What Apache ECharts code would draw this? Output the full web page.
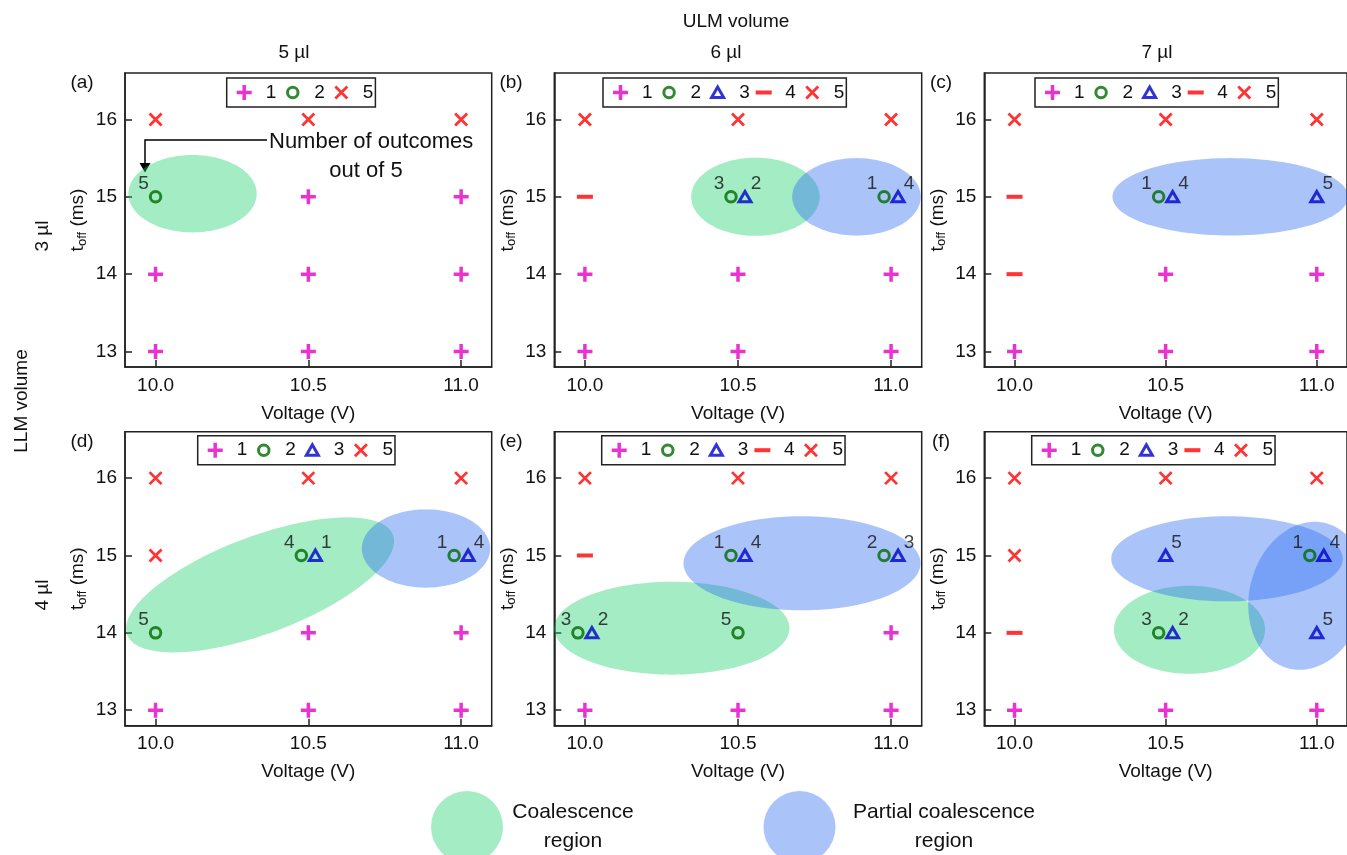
<!DOCTYPE html>
<html><head><meta charset="utf-8">
<script src="https://cdn.jsdelivr.net/npm/echarts@6/dist/echarts.min.js"></script>
<style>html,body{margin:0;padding:0;background:#fff}#c{width:1347px;height:855px}</style>
</head><body><div id="c"></div>
<script>
// ---------------- data ----------------
const voltages = [10.0, 10.5, 11.0];          // columns of every outcome grid
const tOffRows = [16, 15, 14, 13];            // rows of every outcome grid (top to bottom)
const xTicks = [10.0, 10.5, 11.0];
const yTicks = [13, 14, 15, 16];
const columnTitles = ['5 µl', '6 µl', '7 µl'];   // ULM volume
const rowTitles = ['3 µl', '4 µl'];              // LLM volume
const panelLetters = ['(a)', '(b)', '(c)', '(d)', '(e)', '(f)'];
const outcomeNames = ['1', '2', '3', '4', '5'];
// '+' outcome 1, 'oN' outcome 2 (N of 5), '^N' outcome 3 (N of 5), '-' outcome 4, 'x' outcome 5
const outcomesA = [['x','x','x'], ['o5','+','+'], ['+','+','+'], ['+','+','+']];
const outcomesB = [['x','x','x'], ['-','o3^2','o1^4'], ['+','+','+'], ['+','+','+']];
const outcomesC = [['x','x','x'], ['-','o1^4','^5'], ['-','+','+'], ['+','+','+']];
const outcomesD = [['x','x','x'], ['x','o4^1','o1^4'], ['o5','+','+'], ['+','+','+']];
const outcomesE = [['x','x','x'], ['-','o1^4','o2^3'], ['o3^2','o5','+'], ['+','+','+']];
const outcomesF = [['x','x','x'], ['x','^5','o1^4'], ['-','o3^2','^5'], ['+','+','+']];
// regions: [panel, centreV, centreT, axis1 dV, axis1 dT, axis2 dV, axis2 dT] (data units)
const coalescenceRegions = [
  [0, 10.121, 15.04, 0.21, 0, 0, 0.50],
  [1, 10.557, 15.00, 0.21, 0, 0, 0.505],
  [3, 10.342, 14.62, 0.435, 0.645, 0.056, -0.588],
  [4, 10.284, 14.06, 0.384, 0, 0, 0.60],
  [5, 10.579, 14.04, 0.25, 0, 0, 0.57]
];
const partialRegions = [
  [1, 10.887, 15.00, 0.21, 0, 0, 0.50],
  [2, 10.714, 15.00, 0.39, 0, 0, 0.50],
  [3, 10.885, 15.09, 0.21, 0, 0, 0.506],
  [4, 10.709, 14.90, 0.387, 0, 0, 0.608],
  [5, 10.703, 14.957, 0.383, 0, 0, 0.55],
  [5, 10.968, 14.479, 0.0636, 0.937, 0.184, -0.194]
];
const panelOutcomes = [outcomesA, outcomesB, outcomesC, outcomesD, outcomesE, outcomesF];

// ---------------- styles / layout ----------------
const FONT = '"Liberation Sans", Arial, sans-serif';
const TXT = '#111';
const MAG = '#e400c6', GRN = '#006a00', BLU = '#0000cc', RED = '#ff0000';
const GREEN_FILL = 'rgba(25,207,107,0.4)', BLUE_FILL = 'rgba(42,107,242,0.4)';
const PLUS = 'path://M0,0M16,16M8,0.5V15.5M0.5,8H15.5';
const CIRC = 'path://M0,0M16,16M13.25,8A5.25,5.25,0,1,1,2.75,8A5.25,5.25,0,1,1,13.25,8Z';
const TRI = 'path://M0,0M16,16M8,2.6L14,13L2,13Z';
const DASH = 'path://M0,0M16,16M0,6H16V10H0Z';
const CROSS = 'path://M0,0M16,16M2,2L14,14M14,2L2,14';
const markerStyle = {
  '1': { symbol: PLUS, itemStyle: { color: 'none', borderColor: MAG, borderWidth: 3.5 } },
  '2': { symbol: CIRC, itemStyle: { color: 'none', borderColor: GRN, borderWidth: 3 } },
  '3': { symbol: TRI, itemStyle: { color: 'none', borderColor: BLU, borderWidth: 3 } },
  '4': { symbol: DASH, itemStyle: { color: RED, borderWidth: 0 } },
  '5': { symbol: CROSS, itemStyle: { color: 'none', borderColor: RED, borderWidth: 2.8 } }
};
const labelOffset = { '2': [-12, -13], '3': [11, -13] };
const PAIR_SHIFT = 7;

const gridLefts = [125, 554.3, 984.3];
const gridWidths = [366.7, 367.4, 367];
const gridTops = [73, 431.7];
const GRID_H = 294;
const legendLefts = [226.7, 603, 1035, 197.7, 601.7, 1031.7];
const legendTops = [78, 435.7];
const AXIS_LINE = { show: true, onZero: false, lineStyle: { color: '#222', width: 1.5 } };
const TICK_STYLE = { color: '#222', width: 1.5 };

function parseCell(s) {
  if (s === '+') return [{ k: '1' }];
  if (s === '-') return [{ k: '4' }];
  if (s === 'x') return [{ k: '5' }];
  const m = s.match(/^(?:o(\d))?(?:\^(\d))?$/);
  const pair = !!(m[1] && m[2]);
  const res = [];
  if (m[1]) res.push({ k: '2', n: m[1], off: pair ? -1 : 0 });
  if (m[2]) res.push({ k: '3', n: m[2], off: pair ? 1 : 0 });
  return res;
}

const grids = [], xAxes = [], yAxes = [], series = [], legends = [];
for (let p = 0; p < 6; p++) {
  const col = p % 3, row = Math.floor(p / 3);
  grids.push({ left: gridLefts[col], top: gridTops[row], width: gridWidths[col], height: GRID_H,
    show: true, borderColor: '#222', borderWidth: 1.5, backgroundColor: 'transparent' });
  xAxes.push({
    type: 'value', gridIndex: p, min: 9.9, max: 11.1, position: 'bottom',
    name: 'Voltage (V)', nameLocation: 'middle', nameGap: 37,
    nameTextStyle: { fontSize: 19, color: TXT, fontFamily: FONT },
    axisLine: AXIS_LINE,
    axisTick: { show: true, inside: false, length: -7, customValues: xTicks, lineStyle: TICK_STYLE },
    axisLabel: { customValues: xTicks, fontSize: 19, color: TXT, fontFamily: FONT, margin: 9, formatter: v => Number(v).toFixed(1) },
    splitLine: { show: false }
  });
  yAxes.push({
    type: 'value', gridIndex: p, min: 12.8, max: 16.6, position: 'left',
    name: '{t|t}{s|off}{t| (ms)}', nameLocation: 'middle', nameGap: 36,
    nameTextStyle: { fontSize: 19, color: TXT, fontFamily: FONT,
      rich: { t: { fontSize: 19, lineHeight: 22, color: TXT, fontFamily: FONT },
              s: { fontSize: 13, lineHeight: 12, verticalAlign: 'bottom', color: TXT, fontFamily: FONT } } },
    axisLine: AXIS_LINE,
    axisTick: { show: true, inside: false, length: -7, customValues: yTicks, lineStyle: TICK_STYLE },
    axisLabel: { customValues: yTicks, fontSize: 19, color: TXT, fontFamily: FONT, margin: 8 },
    splitLine: { show: false }
  });

  // regions
  [[coalescenceRegions, 'Coalescence region', GREEN_FILL], [partialRegions, 'Partial coalescence region', BLUE_FILL]].forEach(([list, name, fill]) => {
    const data = list.filter(r => r[0] === p).map(r => r.slice(1));
    if (!data.length) return;
    series.push({
      type: 'custom', name, xAxisIndex: p, yAxisIndex: p, silent: true, clip: false, z: 1,
      itemStyle: { color: fill },
      encode: { x: 0, y: 1 },
      data,
      renderItem: (params, api) => {
        const cx = api.value(0), cy = api.value(1), ux = api.value(2), uy = api.value(3), vx = api.value(4), vy = api.value(5);
        const pts = [];
        for (let k = 0; k < 120; k++) {
          const a = 2 * Math.PI * k / 120;
          pts.push(api.coord([cx + ux * Math.cos(a) + vx * Math.sin(a), cy + uy * Math.cos(a) + vy * Math.sin(a)]));
        }
        return { type: 'polygon', shape: { points: pts }, style: { fill } };
      }
    });
  });

  // markers
  const byKind = {};
  panelOutcomes[p].forEach((rowCells, ri) => rowCells.forEach((cell, ci) => {
    parseCell(cell).forEach(it => {
      (byKind[it.k] = byKind[it.k] || []).push({
        value: [voltages[ci], tOffRows[ri]],
        symbolOffset: [(it.off || 0) * PAIR_SHIFT, 0],
        label: it.n ? { show: true, formatter: it.n } : { show: false }
      });
    });
  }));
  const present = outcomeNames.filter(k => byKind[k]);
  present.forEach(k => {
    series.push({
      type: 'scatter', name: k, xAxisIndex: p, yAxisIndex: p, z: 3, silent: true,
      symbol: markerStyle[k].symbol, symbolSize: 16,
      itemStyle: markerStyle[k].itemStyle,
      label: { show: false, position: 'inside', offset: labelOffset[k] || [0, 0], fontSize: 19, color: TXT, fontFamily: FONT },
      data: byKind[k]
    });
  });
  legends.push({
    left: legendLefts[p], top: legendTops[row], orient: 'horizontal',
    borderColor: '#222', borderWidth: 1.5, padding: [4, 2, 4, 7],
    itemWidth: 33, itemHeight: 16, itemGap: 6, selectedMode: false,
    textStyle: { fontSize: 19, color: TXT, fontFamily: FONT },
    data: present.map(k => ({ name: k, icon: markerStyle[k].symbol, itemStyle: markerStyle[k].itemStyle }))
  });
}
legends.push({
  left: 431, top: 791, orient: 'horizontal', itemWidth: 72, itemHeight: 76, itemGap: 125.5,
  symbolKeepAspect: false, selectedMode: false, padding: 0,
  data: [
    { name: 'Coalescence region', icon: 'circle', itemStyle: { color: GREEN_FILL, borderWidth: 0 } },
    { name: 'Partial coalescence region', icon: 'circle', itemStyle: { color: BLUE_FILL, borderWidth: 0 } }
  ],
  formatter: n => n === 'Coalescence region' ? '{a|Coalescence}\n{a|region}' : '{b|Partial coalescence}\n{b|region}',
  textStyle: { fontSize: 21, color: TXT, fontFamily: FONT,
    rich: { a: { width: 130, align: 'center', fontSize: 21, lineHeight: 29, color: TXT, fontFamily: FONT },
            b: { width: 207, align: 'center', fontSize: 21, lineHeight: 29, color: TXT, fontFamily: FONT } } }
});

function txt(text, x, y, size, rot, align) {
  return { type: 'text', x, y, rotation: rot || 0, silent: true,
    style: { text, fill: TXT, font: size + 'px ' + FONT, textAlign: align || 'center', textVerticalAlign: 'middle' } };
}
const colCentres = [294, 726, 1157];
const graphics = [txt('ULM volume', 736, 22, 19), txt('LLM volume', 22, 401, 19, Math.PI / 2)];
columnTitles.forEach((t, i) => graphics.push(txt(t, colCentres[i], 53, 19)));
rowTitles.forEach((t, i) => graphics.push(txt(t, 43, [236, 595][i], 19, Math.PI / 2)));
const letterX = [82, 511, 941], letterY = [83, 442];
panelLetters.forEach((t, i) => graphics.push(txt(t, letterX[i % 3], letterY[Math.floor(i / 3)], 19)));
graphics.push(
  { type: 'polyline', silent: true, shape: { points: [[267, 140], [145, 140], [145, 164]] }, style: { stroke: '#000', lineWidth: 1.5, fill: null } },
  { type: 'polygon', silent: true, shape: { points: [[139.5, 163], [150.5, 163], [145, 172.5]] }, style: { fill: '#000' } },
  txt('Number of outcomes', 269, 142, 22, 0, 'left'),
  txt('out of 5', 366, 171, 22)
);

const chart = echarts.init(document.getElementById('c'), null, { renderer: 'canvas' });
chart.setOption({
  animation: false,
  backgroundColor: '#fff',
  textStyle: { fontFamily: FONT },
  grid: grids, xAxis: xAxes, yAxis: yAxes,
  legend: legends,
  series,
  graphic: graphics
});
</script></body></html>
